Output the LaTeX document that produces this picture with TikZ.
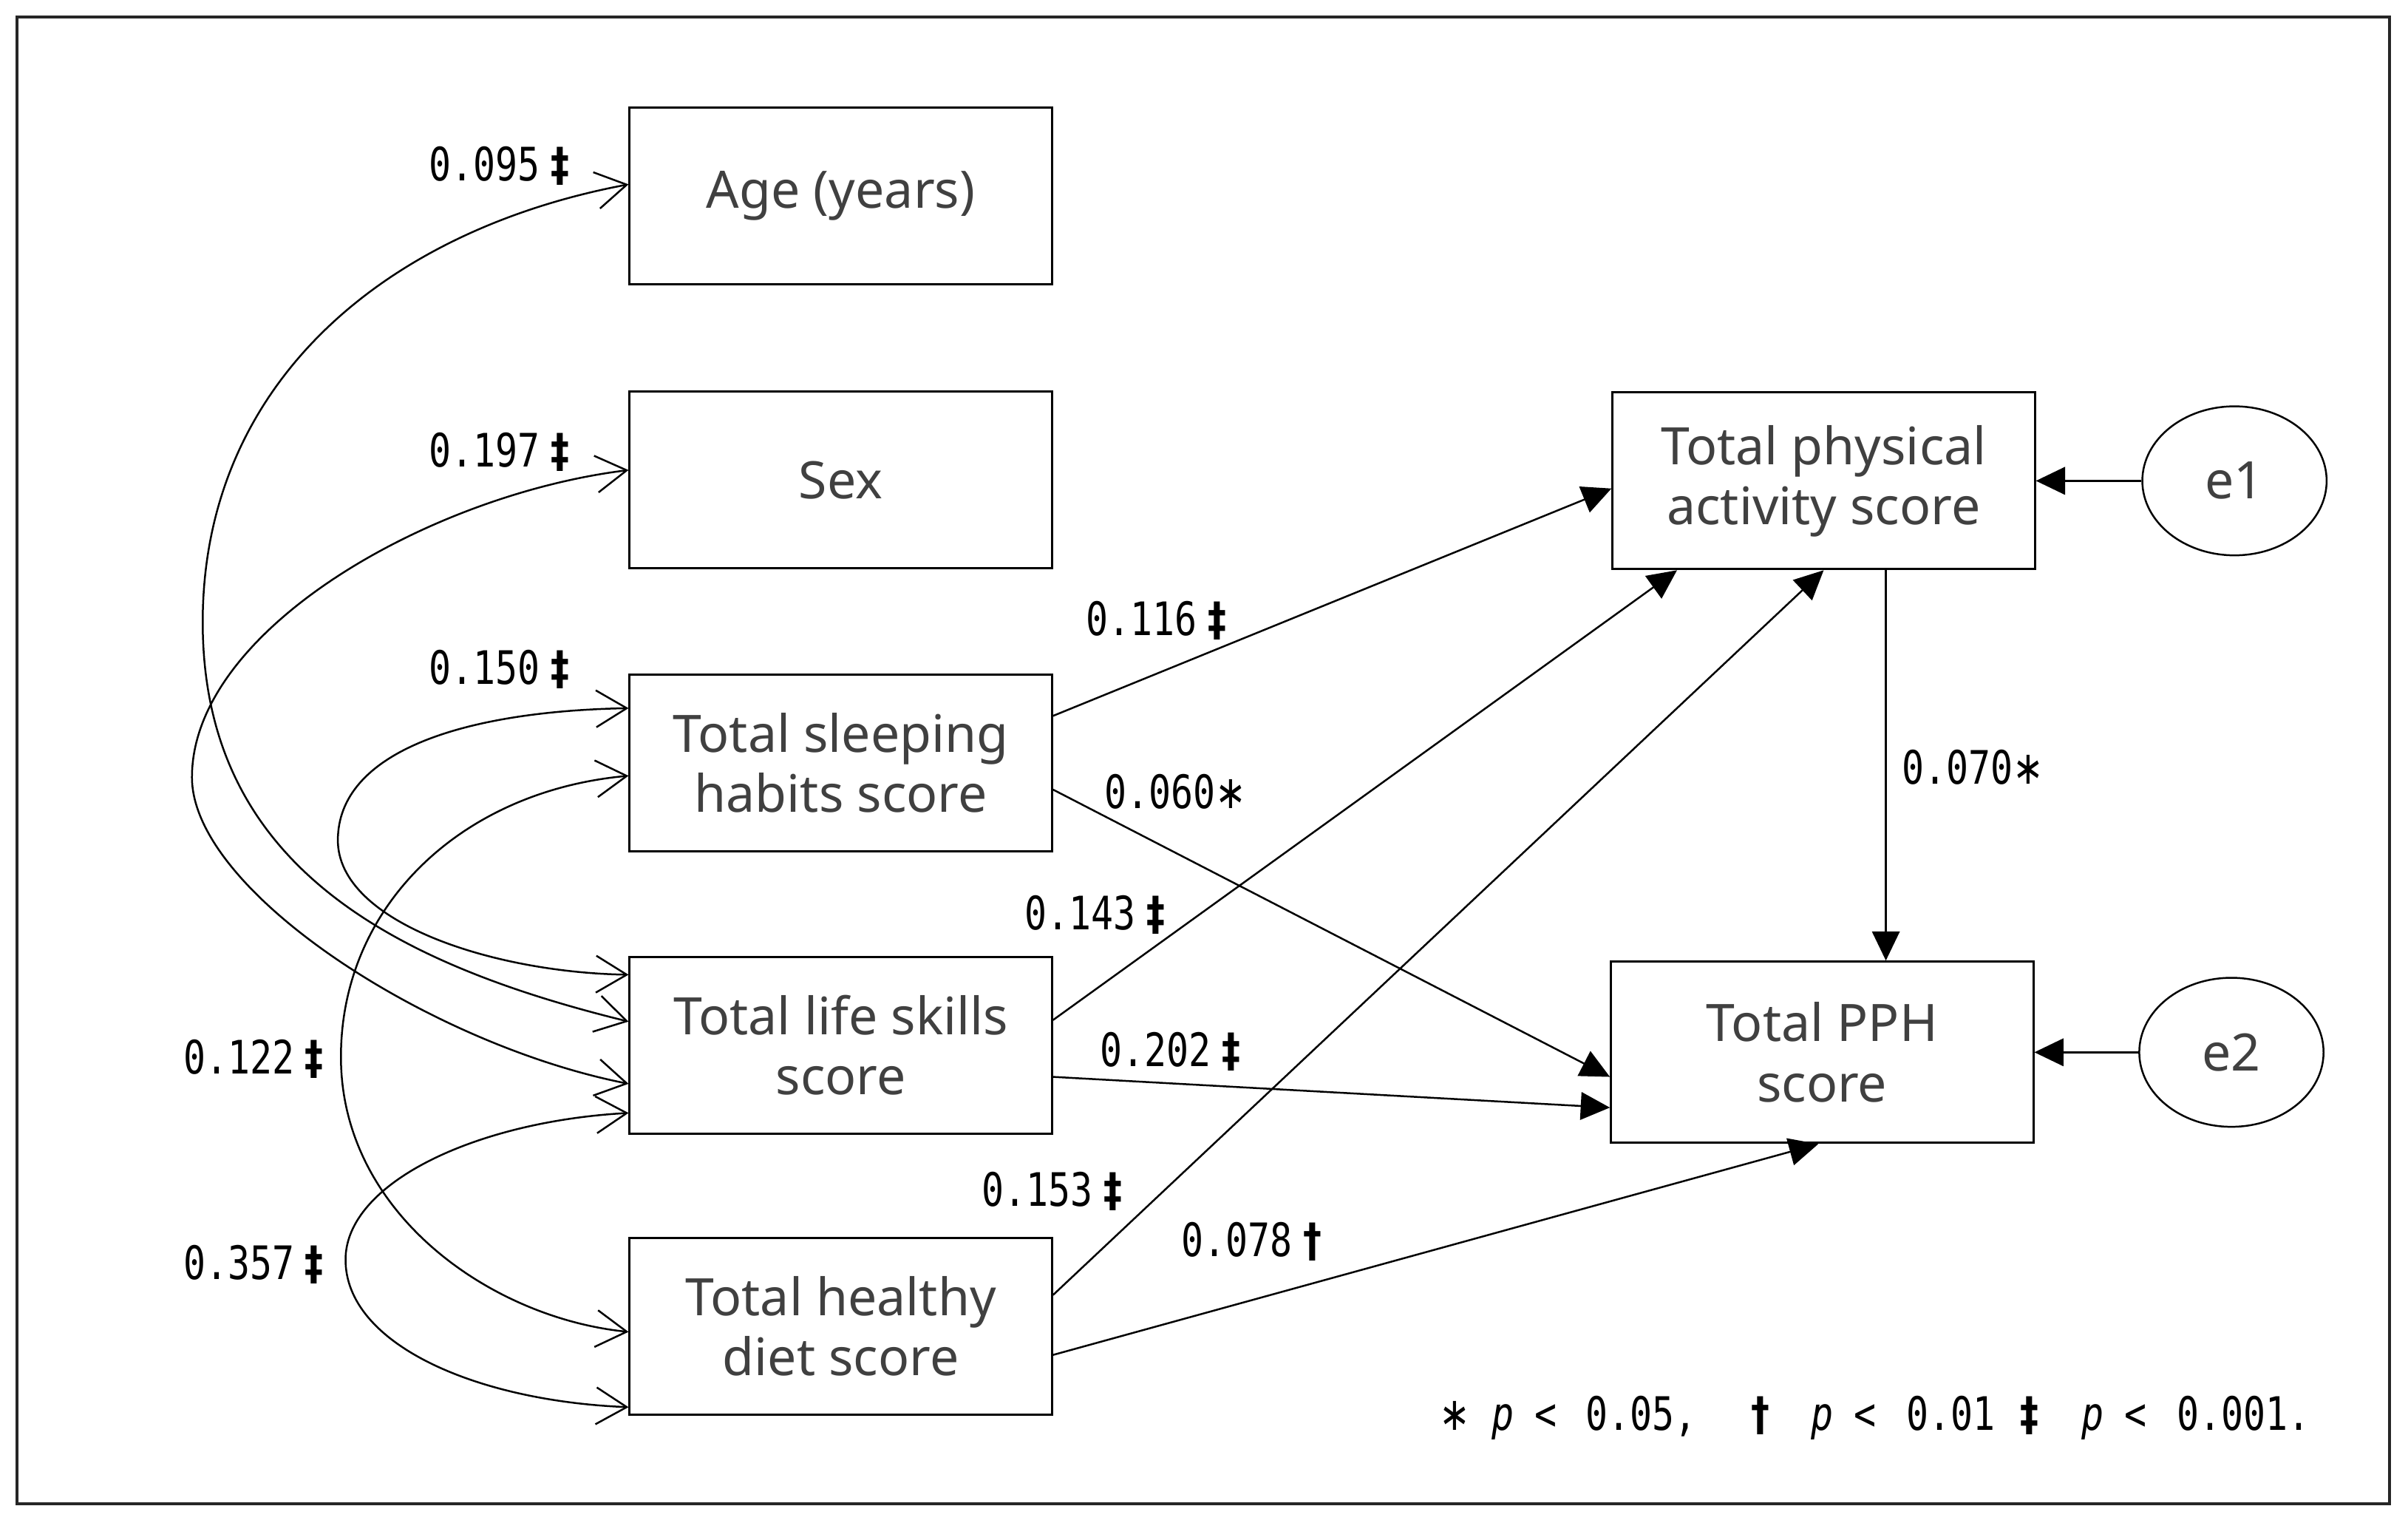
\documentclass[tikz,border=0pt]{standalone}
\usepackage{fontspec}
\usepackage{graphicx}
\setmainfont{Noto Sans}
\newfontfamily\numfont{DejaVu Sans Mono}
\newfontfamily\symfont{DejaVu Sans}
\usetikzlibrary{arrows.meta,calc,shapes.geometric}
\newcommand\dblmark{{\symfont\bfseries ‡}}
\newcommand\sglmark{{\symfont\bfseries †}}
\newcommand\astmark{{\symfont ∗}}
\newcommand\numtxt[1]{\scalebox{1}[1.25]{\numfont #1}}
\tikzset{
  box/.style={draw, line width=0.7pt, minimum width=137.5pt, minimum height=57.5pt,
    inner sep=0pt, align=center, font=\fontsize{16.8}{19.5}\selectfont, text=black!75},
  errnode/.style={draw, ellipse, line width=0.6pt, minimum width=60pt, minimum height=48.5pt,
    inner sep=0pt, font=\fontsize{16.8}{19.5}\selectfont, text=black!75},
  reg/.style={line width=0.6pt, -{Triangle[length=9.5pt,width=9pt]}},
  cov/.style={line width=0.6pt, {Straight Barb[length=10pt,width=12pt]}-{Straight Barb[length=10pt,width=12pt]}},
  lab/.style={anchor=base west, inner sep=0pt, font=\fontsize{12}{14}\selectfont},
}
\begin{document}
\begin{tikzpicture}[x=0.5pt,y=-0.5pt]
\useasboundingbox (0,0) rectangle (1568,991.4);
\draw[line width=1.1pt, black!85] (11,11) rectangle (1556,979);

% boxes
\node[box] (age)   at (547.5,127.5) {Age (years)};
\node[box] (sex)   at (547.5,312.5) {Sex};
\node[box] (sleep) at (547.5,496.5) {Total sleeping\\habits score};
\node[box] (life)  at (547.5,680.5) {Total life skills\\score};
\node[box] (diet)  at (547.5,863.5) {Total healthy\\diet score};
\node[box] (phys)  at (1187.5,313) {Total physical\\activity score};
\node[box, minimum height=59pt] (pph) at (1186.5,685) {Total PPH\\score};
\node[errnode] (e1) at (1455,313) {e1};
\node[errnode] (e2) at (1453,685) {e2};

% covariances
\draw[cov] ($(age.west)+(0,-7.5)$) .. controls (250,150) and (132,250) .. (132,405)
  .. controls (132,560) and (250,626) .. ($(life.west)+(0,-15.5)$);
\draw[cov] ($(sex.west)+(0,-6.5)$) .. controls (280,322) and (125,410) .. (125,506)
  .. controls (125,580) and (280,680) .. ($(life.west)+(0,25)$);
\draw[cov] ($(sleep.west)+(0,-35.5)$) .. controls (300,463) and (220,490) .. (220,547)
  .. controls (220,600) and (320,633) .. ($(life.west)+(0,-46)$);
\draw[cov] ($(sleep.west)+(0,8.5)$) .. controls (300,515) and (222,590) .. (222,688)
  .. controls (222,790) and (320,858) .. ($(diet.west)+(0,3.5)$);
\draw[cov] ($(life.west)+(0,44)$) .. controls (310,730) and (225,770) .. (225,820)
  .. controls (225,875) and (310,912) .. ($(diet.west)+(0,52.5)$);

% regressions
\draw[reg] ($(sleep.east)+(0,-30.5)$) -- ($(phys.west)+(0,5)$);
\draw[reg] ($(sleep.east)+(0,17.5)$) -- ($(pph.west)+(0,16)$);
\draw[reg] ($(life.east)+(0,-16.5)$) -- ($(phys.south)+(-95.5,0)$);
\draw[reg] ($(life.east)+(0,20.5)$) -- ($(pph.west)+(0,36)$);
\draw[reg] ($(diet.east)+(0,-20.5)$) -- (phys.south);
\draw[reg] ($(diet.east)+(0,18.5)$) -- ($(pph.south)+(-2.5,0)$);
\draw[reg] ($(phys.south)+(40.5,0)$) -- ($(pph.north)+(41.5,0)$);
\draw[reg] (e1.west) -- (e1.west -| phys.east);
\draw[reg] (e2.west) -- (e2.west -| pph.east);

% labels
\node[lab] (l095) at (279,117.5) {\numtxt{0.095\hspace{3.5pt}\dblmark}};
\node[lab] (l197) at (279,304)   {\numtxt{0.197\hspace{3.5pt}\dblmark}};
\node[lab] (l150) at (279,445.5) {\numtxt{0.150\hspace{3.5pt}\dblmark}};
\node[lab] (l122) at (119,699)   {\numtxt{0.122\hspace{3.5pt}\dblmark}};
\node[lab] (l357) at (119,833)   {\numtxt{0.357\hspace{3.5pt}\dblmark}};
\node[lab] (l116) at (707,413.5) {\numtxt{0.116\hspace{3.5pt}\dblmark}};
\node[lab] (l060) at (719,526.5) {\numtxt{0.060\astmark}};
\node[lab] (l143) at (667,605)   {\numtxt{0.143\hspace{3.5pt}\dblmark}};
\node[lab] (l202) at (716,694)   {\numtxt{0.202\hspace{3.5pt}\dblmark}};
\node[lab] (l153) at (639,785)   {\numtxt{0.153\hspace{3.5pt}\dblmark}};
\node[lab] (l078) at (769,818)   {\numtxt{0.078\hspace{3.5pt}\sglmark}};
\node[lab] (l070) at (1238,510.5){\numtxt{0.070\astmark}};

% legend
\node[lab] (legend) at (937,931) {\numtxt{%
  \makebox[17pt][l]{\astmark}%
  \makebox[13.9pt][l]{\itshape p}%
  \makebox[16.6pt][l]{<}%
  \makebox[54pt][l]{0.05,}%
  \makebox[19.5pt][l]{\sglmark}%
  \makebox[13.9pt][l]{\itshape p}%
  \makebox[17.1pt][l]{<}%
  \makebox[37pt][l]{0.01}%
  \makebox[20pt][l]{\dblmark}%
  \makebox[13.9pt][l]{\itshape p}%
  \makebox[17.1pt][l]{<}%
  0.001.}};
\end{tikzpicture}
\end{document}
